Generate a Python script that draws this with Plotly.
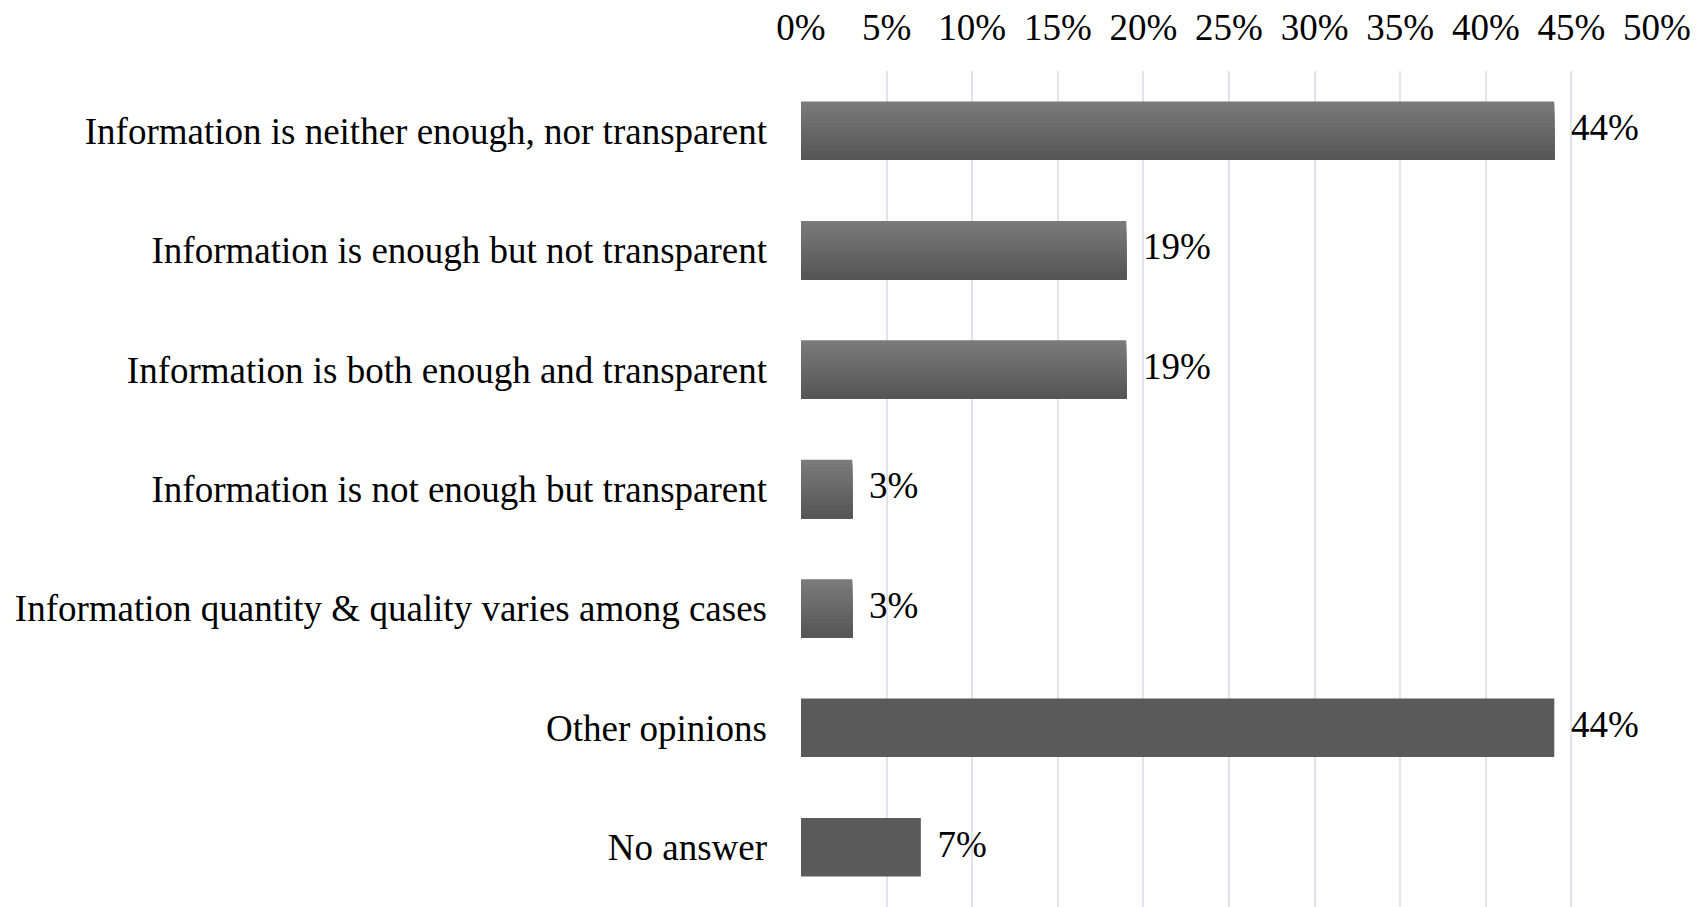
import plotly.graph_objects as go

categories = [
    "Information is neither enough, nor transparent",
    "Information is enough but not transparent",
    "Information is both enough and transparent",
    "Information is not enough but transparent",
    "Information quantity & quality varies among cases",
    "Other opinions",
    "No answer",
]
values = [44, 19, 19, 3, 3, 44, 7]
labels = ["44%", "19%", "19%", "3%", "3%", "44%", "7%"]
tick_vals = [0, 5, 10, 15, 20, 25, 30, 35, 40, 45, 50]
tick_text = ["0%", "5%", "10%", "15%", "20%", "25%", "30%", "35%", "40%", "45%", "50%"]

# styling (not data)
gradient_flags = [True, True, True, True, True, False, False]
BAR_W = 0.49
N_STRIPS = 16
TOP_RGB = (0x7a, 0x7a, 0x7a)
BOT_RGB = (0x56, 0x56, 0x56)
SOLID = "#5a5a5a"
FONT = "Liberation Serif"
FS = 37

fig = go.Figure()

grad_cats = [c for c, g in zip(categories, gradient_flags) if g]
grad_vals = [v for v, g in zip(values, gradient_flags) if g]
solid_cats = [c for c, g in zip(categories, gradient_flags) if not g]
solid_vals = [v for v, g in zip(values, gradient_flags) if not g]

fig.add_trace(go.Bar(
    y=solid_cats, x=solid_vals, orientation="h",
    width=BAR_W, marker=dict(color=SOLID, line=dict(width=0)),
    hoverinfo="skip", showlegend=False,
))

step = BAR_W / N_STRIPS
for i in range(N_STRIPS):
    t = i / (N_STRIPS - 1)
    rgb = tuple(round(TOP_RGB[k] + (BOT_RGB[k] - TOP_RGB[k]) * t) for k in range(3))
    fig.add_trace(go.Bar(
        y=grad_cats, x=grad_vals, orientation="h",
        width=BAR_W - i * step, offset=-BAR_W / 2 + i * step,
        marker=dict(color="rgb(%d,%d,%d)" % rgb, line=dict(width=0)),
        hoverinfo="skip", showlegend=False,
    ))

fig.add_trace(go.Scatter(
    y=categories, x=values, mode="text", text=[" \u2009" + l for l in labels],
    textposition="middle right",
    textfont=dict(family=FONT, size=FS, color="#000000"),
    hoverinfo="skip", showlegend=False, cliponaxis=False,
))

fig.update_layout(
    width=1705, height=907,
    margin=dict(l=801, r=48, t=71, b=0),
    paper_bgcolor="white", plot_bgcolor="white",
    barmode="overlay",
    font=dict(family=FONT, size=FS, color="#000000"),
    xaxis=dict(
        side="top", range=[0, 50], tickvals=tick_vals, ticktext=tick_text,
        showgrid=True, gridcolor="#e0e4ec", gridwidth=2,
        zeroline=False, showline=False, ticks="",
        ticklabelstandoff=23,
        tickfont=dict(family=FONT, size=FS, color="#000000"),
        fixedrange=True,
    ),
    yaxis=dict(
        type="category", categoryorder="array", categoryarray=categories,
        autorange="reversed", showgrid=False, zeroline=False, showline=False,
        ticks="", ticklabelstandoff=33,
        tickfont=dict(family=FONT, size=FS, color="#000000"),
        fixedrange=True,
    ),
)

fig.write_html("out.html", config={"displayModeBar": False},
               post_script="document.body.style.margin='0';")
